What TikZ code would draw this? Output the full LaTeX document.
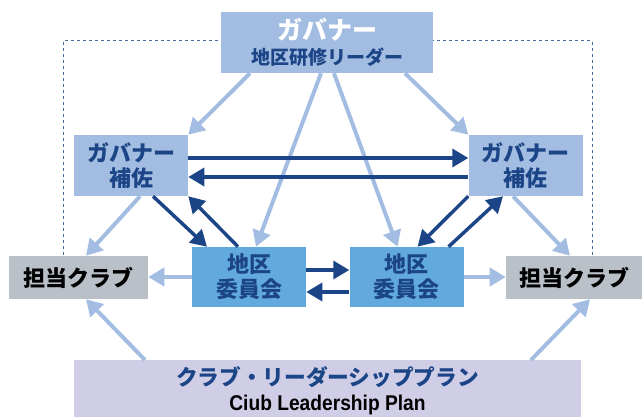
\documentclass[tikz,border=0pt]{standalone}
\usepackage{fontspec}
\usepackage{tikz}
\usetikzlibrary{arrows.meta, positioning, calc}
\newfontfamily\jp{Noto Sans CJK JP}
\newfontfamily\en{Liberation Sans}[FakeStretch=0.9]
\definecolor{paleblue}{HTML}{A3BDE2}
\definecolor{midblue}{HTML}{62A9DD}
\definecolor{navy}{HTML}{1B4586}
\definecolor{clubgray}{HTML}{B9C0C7}
\definecolor{lilac}{HTML}{D0CEE7}

\begin{document}
\begin{tikzpicture}[x=0.75pt,y=-0.75pt,>={Triangle[length=12pt,width=13.5pt]},
		box/.style={rectangle,inner sep=0pt,align=center,font=\jp\bfseries\fontsize{16.5}{18.75}\selectfont},
		aide/.style={box,fill=paleblue,text=navy,minimum width=85.5pt,minimum height=45.75pt},
		cmte/.style={box,fill=midblue,text=navy,minimum width=85.5pt,minimum height=45pt},
		club/.style={box,fill=clubgray,text=black,minimum height=32.25pt},
		lite/.style={->,draw=paleblue,line width=3pt},
		dark/.style={->,draw=navy,line width=2.6pt}]
		
		\useasboundingbox (0,0) rectangle (642,417);
		\draw[navy!80, line width=0.75pt, dash pattern=on 2.25pt off 2.25pt] (63,255) |- (592,41) -- (592,255);
		
		\node[box,fill=paleblue,minimum width=159pt,minimum height=45.75pt] (gov) at (327,42.5)
		{{\color{white}\fontsize{18.75}{19.5}\selectfont ガバナー}\\{\color{navy}\fontsize{14.25}{19.5}\selectfont 地区研修リーダー}};
		\node[aide] (lh) at (131,165.5) {ガバナー\\補佐};
		\node[aide] (rh) [right=210pt of lh] {ガバナー\\補佐};
		\node[cmte] (lk) at (249,277) {地区\\委員会};
		\node[cmte] (rk) [right=32.25pt of lk] {地区\\委員会};
		\node[club,minimum width=104.25pt] (lc) at (78.5,277.5) {担当クラブ};
		\node[club,minimum width=102pt] (rc) at (574,277.5) {担当クラブ};
		\node[box,fill=lilac,minimum width=380.25pt,minimum height=45pt,anchor=north] (plan) at (327.5,360)
		{{\color{navy}\fontsize{16.25}{25}\selectfont クラブ・リーダーシッププラン}\\{\en\bfseries\fontsize{16}{25}\selectfont Ciub Leadership Plan}};
		
		% from the governor
		\draw[lite] ($(gov.south)+(-77,0)$) -- (lh.north east);
		\draw[lite] ($(gov.south)+(78,0)$) -- (rh.north west);
		\draw[lite] ($(gov.south)+(-6,0)$) -- ($(lk.north)+(7,0)$);
		\draw[lite] ($(gov.south)+(7,0)$) -- ($(rk.north)+(-9,0)$);
		% to the clubs
		\draw[lite] ($(lh.south)+(9,0)$) -- ($(lc.north)+(7.5,0)$);
		\draw[lite] ($(rh.south)+(-12.5,0)$) -- ($(rc.north)+(-4,0)$);
		\draw[lite] (lk.west) -- (lk.west -| lc.east);
		\draw[lite] (rk.east) -- (rk.east -| rc.west);
		\draw[lite] ($(plan.north)+(-182.5,0)$) -- ($(lc.south)+(7.5,0)$);
		\draw[lite] ($(plan.north)+(203.5,0)$) -- ($(rc.south)+(16,0)$);
		
		\draw[dark] ($(lh.east)+(0,-7.5)$) -- ($(rh.west)+(0,-7.5)$);
		\draw[dark] ($(rh.west)+(0,11.5)$) -- ($(lh.east)+(0,11.5)$);
		\draw[dark] ($(lk.east)+(0,-7)$) -- ($(rk.west)+(0,-7)$);
		\draw[dark] ($(rk.west)+(0,15)$) -- ($(lk.east)+(0,15)$);
		\draw[dark] ($(lh.south)+(22,0)$) -- ($(lk.north)+(-42,0)$);
		\draw[dark] ($(lk.north)+(-11,0)$) -- (lh.south east);
		\draw[dark] (rh.south west) -- ($(rk.north)+(11,0)$);
		\draw[dark] ($(rk.north)+(42,0)$) -- ($(rh.south)+(-22.5,0)$);
		
	\end{tikzpicture}
\end{document}
